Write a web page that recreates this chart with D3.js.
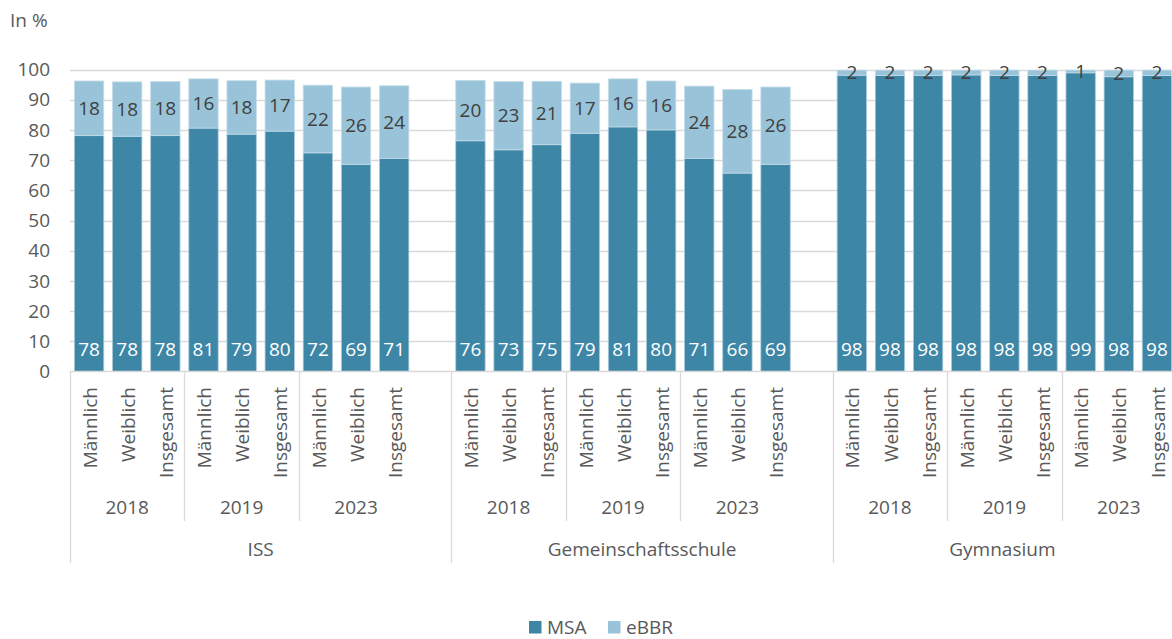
<!DOCTYPE html>
<html><head><meta charset="utf-8">
<script src="https://cdn.jsdelivr.net/npm/d3@7"></script>
<style>
html,body{margin:0;padding:0;background:#fff;}
svg{display:block;font-family:"Open Sans",sans-serif;}
</style></head>
<body>
<svg id="chart" width="1172" height="639"></svg>
<script>
const schools = ["ISS", "Gemeinschaftsschule", "Gymnasium"];
const years = ["2018", "2019", "2023"];
const genders = ["Männlich", "Weiblich", "Insgesamt"];
const yTicks = [0, 10, 20, 30, 40, 50, 60, 70, 80, 90, 100];
const seriesNames = ["MSA", "eBBR"];
// order: school -> year -> gender
const msa = [
  78.1, 77.9, 78.1, 80.6, 78.6, 79.6, 72.4, 68.6, 70.6,
  76.4, 73.4, 75.1, 78.9, 81.0, 80.0, 70.6, 65.7, 68.6,
  98.1, 98.0, 98.0, 98.2, 98.0, 98.0, 98.9, 97.6, 98.0
];
const ebbr = [
  18.1, 18.0, 17.9, 16.3, 17.7, 16.9, 22.4, 25.6, 24.0,
  20.0, 22.6, 21.0, 16.6, 15.9, 16.2, 23.9, 27.7, 25.6,
  1.7, 1.8, 1.8, 1.6, 1.8, 1.8, 0.9, 2.2, 1.8
];

(function () {
const FS = 19;
const colors = {MSA: "#3e86a6", eBBR: "#99c3d8"};
const svg = d3.select("#chart");
const pLeft = 70, pRight = 1176, pTop = 69.5, pBottom = 371.5;

const slots = [];
const bars = [];
schools.forEach((s, si) => {
  years.forEach((y, yi) => {
    genders.forEach((g, gi) => {
      const k = s + "|" + y + "|" + g;
      slots.push(k);
      const idx = si * 9 + yi * 3 + gi;
      bars.push({key: k, school: s, year: y, gender: g, msa: msa[idx], ebbr: ebbr[idx]});
    });
  });
  if (si < schools.length - 1) slots.push("blank" + si);
});

const x = d3.scaleBand().domain(slots).range([pLeft, pRight]).paddingInner(0.23).paddingOuter(0.115);
const yScale = d3.scaleLinear().domain([0, 100]).range([pBottom, pTop]);
const step = x.step();
const slotStart = k => x(k) - step * 0.115;

svg.append("g").selectAll("line").data(yTicks.filter(t => t > 0)).join("line")
  .attr("x1", pLeft).attr("x2", 1172)
  .attr("y1", d => Math.round(yScale(d)) + 0.5).attr("y2", d => Math.round(yScale(d)) + 0.5)
  .attr("stroke", "#d9d9d9").attr("stroke-width", 1.3);

svg.append("g").selectAll("text").data(yTicks).join("text")
  .attr("x", 50).attr("y", d => yScale(d))
  .attr("dy", "0.35em").attr("text-anchor", "end")
  .attr("font-size", FS).attr("fill", "#595959")
  .text(d => d);

svg.append("text").attr("x", 10).attr("y", 27).attr("font-size", FS).attr("fill", "#595959").text("In %");

const g = svg.append("g");
g.selectAll("rect.msa").data(bars).join("rect").attr("class", "msa")
  .attr("x", d => x(d.key)).attr("width", x.bandwidth())
  .attr("y", d => yScale(d.msa)).attr("height", d => yScale(0) - yScale(d.msa))
  .attr("fill", colors.MSA).attr("stroke", "#a8cadb").attr("stroke-width", 0.8);
g.selectAll("rect.ebbr").data(bars).join("rect").attr("class", "ebbr")
  .attr("x", d => x(d.key)).attr("width", x.bandwidth())
  .attr("y", d => yScale(d.msa + d.ebbr)).attr("height", d => yScale(d.msa) - yScale(d.msa + d.ebbr))
  .attr("fill", colors.eBBR).attr("stroke", "#c4dde9").attr("stroke-width", 0.8);

g.selectAll("text.lm").data(bars).join("text").attr("class", "lm")
  .attr("x", d => x(d.key) + x.bandwidth() / 2).attr("y", yScale(0) - 16)
  .attr("text-anchor", "middle").attr("font-size", FS).attr("fill", "#ffffff")
  .text(d => Math.round(d.msa));
g.selectAll("text.le").data(bars).join("text").attr("class", "le")
  .attr("x", d => x(d.key) + x.bandwidth() / 2)
  .attr("y", d => (yScale(d.msa) + yScale(d.msa + d.ebbr)) / 2)
  .attr("dy", "0.35em")
  .attr("text-anchor", "middle").attr("font-size", FS).attr("fill", "#404040")
  .text(d => Math.round(d.ebbr));

const ax = svg.append("g").attr("stroke", "#d9d9d9").attr("stroke-width", 1.3);
ax.append("line").attr("x1", pLeft).attr("x2", 1172).attr("y1", pBottom).attr("y2", pBottom);
schools.forEach((s) => {
  const first = s + "|" + years[0] + "|" + genders[0];
  const gx = Math.round(slotStart(first)) + 0.5;
  ax.append("line").attr("x1", gx).attr("x2", gx).attr("y1", pBottom).attr("y2", 563);
  years.forEach((y, yi) => {
    if (yi === 0) return;
    const k = s + "|" + y + "|" + genders[0];
    const yx = Math.round(slotStart(k)) + 0.5;
    ax.append("line").attr("x1", yx).attr("x2", yx).attr("y1", pBottom).attr("y2", 521);
  });
});

svg.append("g").selectAll("text").data(bars).join("text")
  .attr("transform", d => `translate(${x(d.key) + x.bandwidth() / 2 + 1},387) rotate(-90)`)
  .attr("text-anchor", "end").attr("dy", "0.35em")
  .attr("font-size", FS).attr("fill", "#595959")
  .text(d => d.gender);

const yearData = [];
schools.forEach(s => years.forEach(y => yearData.push({s, y})));
svg.append("g").selectAll("text").data(yearData).join("text")
  .attr("x", d => {
    const a = x(d.s + "|" + d.y + "|" + genders[0]);
    const b = x(d.s + "|" + d.y + "|" + genders[2]) + x.bandwidth();
    return (a + b) / 2;
  })
  .attr("y", 514).attr("text-anchor", "middle")
  .attr("font-size", FS).attr("fill", "#595959")
  .text(d => d.y);

const groupEdges = schools.map(s => slotStart(s + "|" + years[0] + "|" + genders[0]));
groupEdges.push(1172);
svg.append("g").selectAll("text").data(schools).join("text")
  .attr("x", (d, i) => (groupEdges[i] + groupEdges[i + 1]) / 2)
  .attr("y", 556).attr("text-anchor", "middle")
  .attr("font-size", FS).attr("fill", "#595959")
  .text(d => d);

const legendX = [529, 608];
const lg = svg.append("g");
seriesNames.forEach((n, i) => {
  lg.append("rect").attr("x", legendX[i]).attr("y", 621).attr("width", 12.5).attr("height", 12.5).attr("fill", colors[n]);
  lg.append("text").attr("x", legendX[i] + 18).attr("y", 633.5).attr("font-size", FS).attr("fill", "#595959").text(n);
});
})();
</script>
</body></html>
